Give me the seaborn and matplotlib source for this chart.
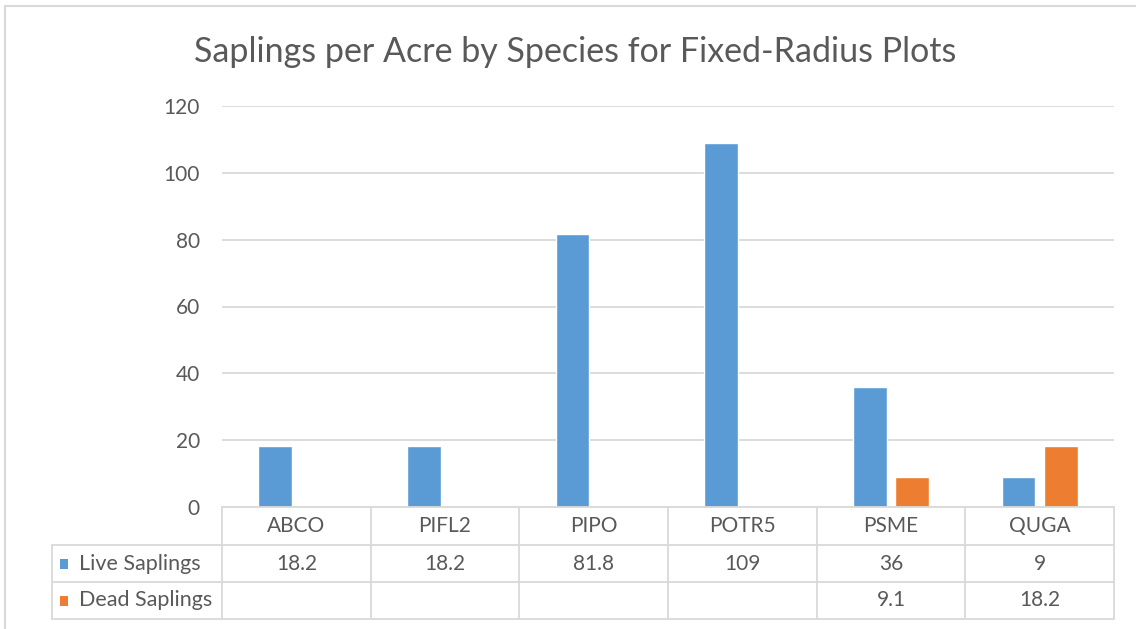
import pandas as pd
import seaborn as sns
import matplotlib.pyplot as plt
from matplotlib import transforms
from matplotlib.lines import Line2D
from matplotlib.patches import Rectangle

# Chart data
species = ["ABCO", "PIFL2", "PIPO", "POTR5", "PSME", "QUGA"]
live_saplings = [18.2, 18.2, 81.8, 109, 36, 9]
dead_saplings = [None, None, None, None, 9.1, 18.2]
series_names = ["Live Saplings", "Dead Saplings"]
series_colors = ["#5B9BD5", "#ED7D31"]
y_ticks = [0, 20, 40, 60, 80, 100, 120]

W, H = 1136, 629
TEXT = "#595959"
GRID = "#D9D9D9"

sns.set_style("white")
plt.rcParams["font.family"] = ["Lato", "DejaVu Sans"]

df = pd.DataFrame({
    "Species": species * 2,
    "Series": [series_names[0]] * len(species) + [series_names[1]] * len(species),
    "Value": live_saplings + dead_saplings,
})
df["Value"] = df["Value"].astype(float)

fig = plt.figure(figsize=(W / 100, H / 100), dpi=100)
fig.patch.set_facecolor("white")


def fx(px):
    return px / W


def fy(px):
    return 1 - px / H


# plot area in pixels: left 222, right 1114, top 106, bottom 507
ax = fig.add_axes([fx(222), fy(507), fx(1114 - 222), (507 - 106) / H])

sns.barplot(data=df, x="Species", y="Value", hue="Series", hue_order=series_names,
            palette=series_colors, width=0.57, gap=0.2, legend=False,
            saturation=1, ax=ax)

ax.set_xlim(-0.5, len(species) - 0.5)
ax.set_ylim(0, 120)
ax.set_yticks(y_ticks)
ax.set_yticklabels([str(t) for t in y_ticks], color=TEXT, fontsize=15)
ax.tick_params(axis="y", length=0, pad=16)
ax.set_xticks([])
ax.set_xlabel("")
ax.set_ylabel("")
ax.grid(axis="y", color=GRID, linewidth=1.3)
ax.set_axisbelow(True)
for side in ["left", "right", "top"]:
    ax.spines[side].set_visible(False)
ax.spines["bottom"].set_color(GRID)
ax.spines["bottom"].set_linewidth(1.3)

fig.text(fx(575), fy(52), "Saplings per Acre by Species for Fixed-Radius Plots",
         ha="center", va="center", fontsize=24.5, color=TEXT)

# Data table under the chart
row_edges = [507, 545, 582, 619]
blend = transforms.blended_transform_factory(ax.transData, fig.transFigure)
line_kw = dict(color=GRID, linewidth=1.3)

for i in range(len(species) + 1):
    x = i - 0.5
    fig.add_artist(Line2D([x, x], [fy(row_edges[0]), fy(row_edges[-1])],
                          transform=blend, **line_kw))
for y in row_edges[1:]:
    fig.add_artist(Line2D([fx(52), fx(1114)], [fy(y), fy(y)],
                          transform=fig.transFigure, **line_kw))
fig.add_artist(Line2D([fx(52), fx(52)], [fy(row_edges[1]), fy(row_edges[-1])],
                      transform=fig.transFigure, **line_kw))

row_mid = [(row_edges[k] + row_edges[k + 1]) / 2 for k in range(3)]
for i, name in enumerate(species):
    fig.text(i, fy(row_mid[0]), name, transform=blend, ha="center", va="center",
             fontsize=15, color=TEXT)
for r, values in enumerate([live_saplings, dead_saplings]):
    for i, v in enumerate(values):
        if v is not None:
            fig.text(i, fy(row_mid[r + 1]), f"{v:g}", transform=blend,
                     ha="center", va="center", fontsize=15, color=TEXT)

for r, (name, color) in enumerate(zip(series_names, series_colors)):
    y = row_mid[r + 1]
    fig.add_artist(Rectangle((fx(60), fy(y + 5)), fx(8), 10 / H,
                             transform=fig.transFigure, facecolor=color,
                             edgecolor="none"))
    fig.text(fx(79), fy(y), name, ha="left", va="center", fontsize=15.5, color=TEXT)

# Chart border
fig.add_artist(Rectangle((fx(5), -0.1), 1.2, fy(6) + 0.1, transform=fig.transFigure,
                         facecolor="none", edgecolor=GRID, linewidth=1.5))

fig.savefig("out.png", dpi=100)
